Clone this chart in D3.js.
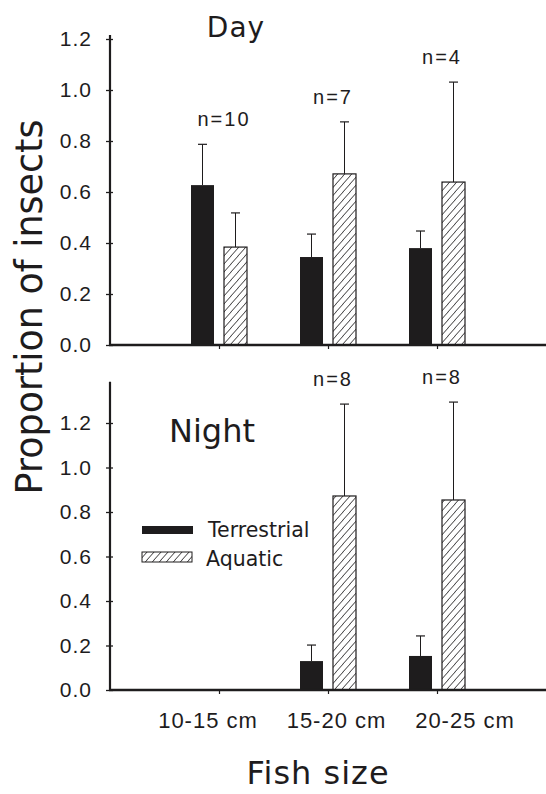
<!DOCTYPE html>
<html>
<head>
    <title>Proportion of insects by fish size</title>
</head>
<body>
<style type="text/css">
    body {
        margin: 0;
        background: #fff;
    }

    #renderer {
        width: 546px;
        height: 794px;
        background: #fff;
        display: block;
    }
</style>
<script type="text/javascript" src="https://cdnjs.cloudflare.com/ajax/libs/d3/7.8.5/d3.min.js"></script>
<svg id='renderer'></svg>

<script type="text/javascript">
    // values (mean proportion and upper error)
    var sizeClasses = ['10-15 cm', '15-20 cm', '20-25 cm'];

    var dayTerrestrial = [0.627, 0.345, 0.38];
    var dayTerrestrialErr = [0.16, 0.09, 0.067];
    var dayAquatic = [0.384, 0.671, 0.639];
    var dayAquaticErr = [0.134, 0.204, 0.392];
    var dayN = ['n=10', 'n=7', 'n=4'];

    // no night sample for the smallest fish
    var nightTerrestrial = [null, 0.13, 0.153];
    var nightTerrestrialErr = [null, 0.072, 0.09];
    var nightAquatic = [null, 0.872, 0.854];
    var nightAquaticErr = [null, 0.413, 0.44];
    var nightN = [null, 'n=8', 'n=8'];

    var yTicks = [0, 0.2, 0.4, 0.6, 0.8, 1.0, 1.2];

    var root = d3.select('#renderer');

    var axisLeftX = 110;
    var axisRightX = 546;
    var barWidth = 23;
    var barOffset = 16.5;
    var ink = '#1e1c1d';

    // category positions 1, 2, 3 on a 0..4 axis
    var x = d3.scaleLinear().domain([0, 4]).range([axisLeftX, axisRightX]);
    // the printed size labels sit a little off the ticks
    var labelX = d3.scalePoint().domain(sizeClasses).range([x(1) - 11, x(3) + 28]);

    var defs = root.append('defs');
    defs.append('pattern')
        .attr('id', 'hatch')
        .attr('patternUnits', 'userSpaceOnUse')
        .attr('width', 7)
        .attr('height', 8)
        .append('path')
        .attr('d', 'M-1,9 L8,-1 M-8,9 L1,-1 M6,9 L15,-1')
        .attr('stroke', ink)
        .attr('stroke-width', 0.9)
        .attr('fill', 'none');

    function drawPanel(yScale, axisTopY, terrestrial, terrestrialErr, aquatic, aquaticErr, nLabels) {
        var baseY = yScale(0);
        var g = root.append('g');

        // bars first, axes on top
        var series = [
            {values: terrestrial, errs: terrestrialErr, dx: -barOffset, fill: ink, stroke: 'none'},
            {values: aquatic, errs: aquaticErr, dx: barOffset, fill: 'url(#hatch)', stroke: ink}
        ];

        series.forEach(function (s) {
            sizeClasses.forEach(function (c, i) {
                var v = s.values[i];
                if (v === null) return;
                var cx = x(i + 1) + s.dx;
                var top = yScale(v);
                var errTop = yScale(v + s.errs[i]);

                // error bar (upper only)
                g.append('line')
                    .attr('x1', cx).attr('x2', cx)
                    .attr('y1', top).attr('y2', errTop)
                    .attr('stroke', ink).attr('stroke-width', 1);
                g.append('line')
                    .attr('x1', cx - 4.5).attr('x2', cx + 4.5)
                    .attr('y1', errTop).attr('y2', errTop)
                    .attr('stroke', ink).attr('stroke-width', 1.2);

                if (s.stroke !== 'none') {
                    g.append('rect')
                        .attr('x', cx - barWidth / 2).attr('y', top)
                        .attr('width', barWidth).attr('height', baseY - top)
                        .attr('fill', '#fff');
                }
                g.append('rect')
                    .attr('x', cx - barWidth / 2).attr('y', top)
                    .attr('width', barWidth).attr('height', baseY - top)
                    .attr('fill', s.fill)
                    .attr('stroke', s.stroke)
                    .attr('stroke-width', 1.2);
            });
        });

        // sample size above the taller error bar of each pair
        sizeClasses.forEach(function (c, i) {
            if (!nLabels[i]) return;
            var highest = Math.max(terrestrial[i] + terrestrialErr[i], aquatic[i] + aquaticErr[i]);
            g.append('text')
                .text(nLabels[i])
                .attr('x', x(i + 1) + 5)
                .attr('y', yScale(highest) - 18)
                .attr('text-anchor', 'middle')
                .attr('font-family', 'Liberation Sans, Arial, sans-serif')
                .attr('font-size', 20)
                .attr('letter-spacing', 2)
                .attr('fill', ink);
        });

        // y axis with ticks crossing the line
        var yAxis = g.append('g')
            .attr('transform', 'translate(' + axisLeftX + ',0)')
            .call(d3.axisLeft(yScale).tickValues(yTicks).tickFormat(d3.format('.1f'))
                .tickSize(4).tickPadding(14));
        yAxis.select('.domain').remove();
        yAxis.selectAll('.tick line').attr('x1', 3).attr('stroke', ink).attr('stroke-width', 1.3);
        yAxis.selectAll('.tick text')
            .attr('font-family', 'Liberation Sans, Arial, sans-serif')
            .attr('font-size', 21)
            .attr('letter-spacing', 1)
            .attr('fill', ink);

        g.append('line')
            .attr('x1', axisLeftX).attr('x2', axisLeftX)
            .attr('y1', axisTopY).attr('y2', baseY + 1)
            .attr('stroke', ink).attr('stroke-width', 2.2);

        // x axis, ticks at the size classes only
        var xAxis = g.append('g')
            .attr('transform', 'translate(0,' + baseY + ')')
            .call(d3.axisBottom(x).tickValues([1, 2, 3]).tickFormat('').tickSize(4));
        xAxis.select('.domain').remove();
        xAxis.selectAll('.tick line').attr('stroke', ink).attr('stroke-width', 1.2);

        g.append('line')
            .attr('x1', axisLeftX - 1).attr('x2', axisRightX)
            .attr('y1', baseY).attr('y2', baseY)
            .attr('stroke', ink).attr('stroke-width', 2.4);
    }

    var yDay = d3.scaleLinear().domain([0, 1.2]).range([345, 39]);
    var yNight = d3.scaleLinear().domain([0, 1.2]).range([690, 423]);

    drawPanel(yDay, 35, dayTerrestrial, dayTerrestrialErr, dayAquatic, dayAquaticErr, dayN);
    drawPanel(yNight, yNight(1.385), nightTerrestrial, nightTerrestrialErr, nightAquatic, nightAquaticErr, nightN);

    // panel titles
    root.append('text')
        .text('Day')
        .attr('x', 236).attr('y', 37)
        .attr('text-anchor', 'middle')
        .attr('font-family', 'DejaVu Sans, Verdana, sans-serif')
        .attr('font-size', 28)
        .attr('letter-spacing', 1)
        .attr('fill', ink);

    root.append('text')
        .text('Night')
        .attr('x', 169).attr('y', 442)
        .attr('font-family', 'DejaVu Sans, Verdana, sans-serif')
        .attr('font-size', 32)
        .attr('fill', ink);

    // legend
    root.append('rect')
        .attr('x', 142).attr('y', 526).attr('width', 51).attr('height', 8)
        .attr('fill', ink);
    root.append('rect')
        .attr('x', 142).attr('y', 552).attr('width', 50).attr('height', 10)
        .attr('fill', 'url(#hatch)').attr('stroke', ink).attr('stroke-width', 1);
    root.append('text')
        .text('Terrestrial')
        .attr('x', 208).attr('y', 537)
        .attr('font-family', 'DejaVu Sans, Verdana, sans-serif')
        .attr('font-size', 20.5)
        .attr('fill', ink);
    root.append('text')
        .text('Aquatic')
        .attr('x', 206).attr('y', 566)
        .attr('font-family', 'DejaVu Sans, Verdana, sans-serif')
        .attr('font-size', 20.5)
        .attr('fill', ink);

    // size class labels
    root.selectAll('.sizeLabel')
        .data(sizeClasses)
        .enter()
        .append('text')
        .attr('class', 'sizeLabel')
        .text(function (d) { return d; })
        .attr('x', function (d) { return labelX(d); })
        .attr('y', 728)
        .attr('text-anchor', 'middle')
        .attr('font-family', 'Liberation Sans, Arial, sans-serif')
        .attr('font-size', 22)
        .attr('letter-spacing', 1)
        .attr('fill', ink);

    // axis titles
    root.append('text')
        .text('Fish size')
        .attr('x', 318).attr('y', 784)
        .attr('text-anchor', 'middle')
        .attr('font-family', 'DejaVu Sans, Verdana, sans-serif')
        .attr('font-size', 32)
        .attr('letter-spacing', 1)
        .attr('fill', ink);

    root.append('text')
        .text('Proportion of insects')
        .attr('transform', 'translate(42,307) rotate(-90)')
        .attr('text-anchor', 'middle')
        .attr('font-family', 'DejaVu Sans, Verdana, sans-serif')
        .attr('font-size', 36.5)
        .attr('fill', ink);
</script>
</body>
</html>
